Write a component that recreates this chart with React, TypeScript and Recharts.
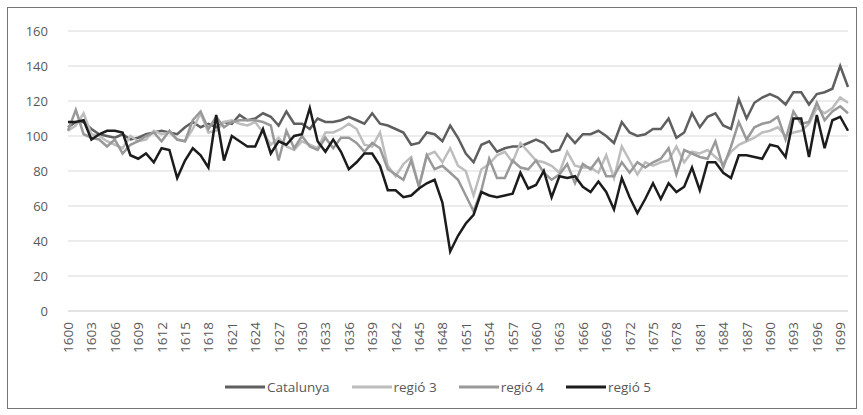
import { LineChart, Line, XAxis, YAxis, CartesianGrid, Legend } from 'recharts'

const years: number[] = []
for (let y = 1600; y <= 1700; y++) years.push(y)

const catalunya = [
  105, 108, 108, 104, 101, 100, 99, 101, 98, 99,
  101, 102, 103, 102, 101, 105, 108, 105, 107, 105,
  108, 107, 112, 109, 110, 113, 111, 106, 114, 107,
  107, 104, 110, 108, 108, 109, 111, 109, 107, 113,
  107, 106, 104, 102, 95, 96, 102, 101, 97, 106,
  99, 90, 85, 95, 97, 91, 93, 94, 94, 96,
  98, 96, 91, 92, 101, 96, 101, 101, 103, 100,
  96, 108, 102, 100, 101, 104, 104, 110, 99, 102,
  113, 105, 111, 113, 106, 104, 121, 110, 119, 122,
  124, 122, 118, 125, 125, 118, 124, 125, 127, 140,
  128,
]

const regio3 = [
  103, 106, 113, 101, 100, 97, 95, 93, 100, 97,
  98, 103, 101, 102, 98, 97, 104, 113, 102, 103,
  108, 109, 107, 106, 108, 102, 95, 99, 94, 92,
  97, 95, 93, 102, 102, 104, 107, 104, 95, 94,
  102, 83, 77, 84, 88, 71, 89, 91, 85, 93,
  83, 80, 66, 81, 84, 89, 91, 85, 96, 91,
  86, 85, 83, 79, 91, 83, 82, 82, 79, 89,
  76, 94, 86, 78, 85, 83, 85, 86, 94, 85,
  91, 90, 92, 88, 84, 91, 95, 97, 99, 102,
  103, 105, 100, 102, 103, 107, 116, 113, 116, 122,
  119,
]

const regio4 = [
  103, 115, 101, 99, 98, 94, 98, 90, 95, 97,
  100, 102, 97, 103, 98, 97, 109, 114, 104, 111,
  105, 108, 109, 109, 109, 108, 106, 86, 103, 93,
  100, 94, 92, 99, 93, 99, 99, 96, 91, 96,
  93, 81, 78, 75, 86, 71, 89, 81, 83, 79,
  75, 66, 57, 69, 87, 76, 76, 86, 82, 81,
  86, 79, 75, 78, 84, 73, 84, 81, 87, 77,
  77, 85, 79, 85, 82, 85, 87, 93, 78, 92,
  90, 88, 87, 97, 82, 94, 108, 98, 105, 107,
  108, 111, 98, 114, 107, 108, 119, 109, 114, 117,
  113,
]

const regio5 = [
  108, 108, 109, 98, 101, 103, 103, 102, 89, 87,
  90, 85, 93, 92, 76, 86, 93, 89, 82, 112,
  86, 100, 97, 94, 94, 104, 90, 97, 95, 100,
  101, 116, 97, 91, 98, 91, 81, 85, 90, 90,
  83, 69, 69, 65, 66, 70, 73, 75, 62, 34,
  43, 50, 55, 68, 66, 65, 66, 67, 79, 70,
  72, 80, 65, 77, 76, 77, 71, 68, 74, 68,
  58, 76, 65, 56, 64, 73, 64, 73, 68, 71,
  82, 69, 85, 85, 79, 76, 89, 89, 88, 87,
  95, 94, 88, 110, 110, 88, 112, 93, 109, 111,
  103,
]

const yTicks = [0, 20, 40, 60, 80, 100, 120, 140, 160]

const series = [
  { key: 'catalunya', name: 'Catalunya', color: '#5f5f5f' },
  { key: 'regio3', name: 'regió 3', color: '#bdbdbd' },
  { key: 'regio4', name: 'regió 4', color: '#999999' },
  { key: 'regio5', name: 'regió 5', color: '#1c1c1c' },
]

const data = years.map((year, i) => ({
  year: String(year),
  catalunya: catalunya[i],
  regio3: regio3[i],
  regio4: regio4[i],
  regio5: regio5[i],
}))

const font = '"Open Sans", sans-serif'
const textColor = '#595959'

function XTick({ x, y, payload }: any) {
  return (
    <text
      x={x}
      y={y}
      transform={`rotate(-90, ${x}, ${y})`}
      textAnchor="end"
      dominantBaseline="central"
      fontSize={13.5}
      fontFamily={font}
      fill={textColor}
    >
      {payload.value}
    </text>
  )
}

function LegendContent() {
  return (
    <div style={{ display: 'flex', justifyContent: 'center', gap: 22, paddingLeft: 20, fontFamily: font, fontSize: 13.5, color: textColor }}>
      {series.map((s) => (
        <div key={s.key} style={{ display: 'flex', alignItems: 'center' }}>
          <svg width={40} height={10} style={{ marginRight: 2 }}>
            <line x1={0} y1={5} x2={40} y2={5} stroke={s.color} strokeWidth={3} />
          </svg>
          <span>{s.name}</span>
        </div>
      ))}
    </div>
  )
}

export default function App() {
  return (
    <div style={{ position: 'absolute', left: 7, top: 7, width: 848, height: 400, border: '1px solid #767676', background: '#fff' }}>
      <LineChart width={848} height={400} data={data} margin={{ top: 23, right: 8, left: 0, bottom: 0 }}>
        <CartesianGrid vertical={false} stroke="#d9d9d9" strokeWidth={1} />
        <XAxis
          dataKey="year"
          interval={2}
          tick={<XTick />}
          tickLine={false}
          axisLine={{ stroke: '#d9d9d9' }}
          tickSize={6}
          tickMargin={5}
          height={67}
        />
        <YAxis
          domain={[0, 160]}
          ticks={yTicks}
          width={60}
          axisLine={false}
          tickLine={false}
          tickSize={6}
          tickMargin={14}
          tick={{ fontSize: 13, fontFamily: font, fill: textColor }}
        />
        <Legend verticalAlign="bottom" height={30} content={<LegendContent />} />
        {series.map((s) => (
          <Line
            key={s.key}
            dataKey={s.key}
            name={s.name}
            stroke={s.color}
            strokeWidth={2.5}
            dot={false}
            type="linear"
            isAnimationActive={false}
          />
        ))}
      </LineChart>
    </div>
  )
}
